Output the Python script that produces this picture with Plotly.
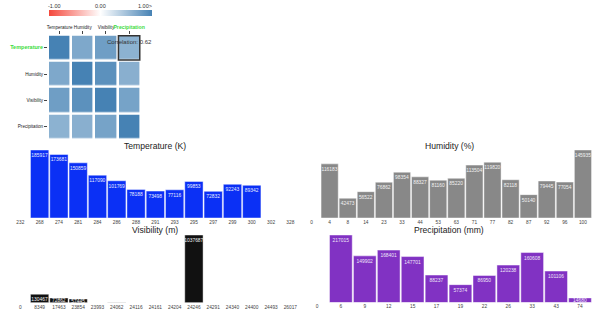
import plotly.graph_objects as go

W, H = 592, 316

# ---------------- data ----------------
variables = ["Temperature", "Humidity", "Visibility", "Precipitation"]
corr_temperature = [1.00, 0.70, 0.78, 0.62]
corr_humidity = [0.70, 1.00, 0.88, 0.64]
corr_visibility = [0.78, 0.88, 1.00, 0.74]
corr_precipitation = [0.62, 0.64, 0.74, 1.00]
colorbar_labels = ["-1.00", "0.00", "1.00>"]

temp_bins = ["232", "268", "274", "281", "284", "286", "288", "291", "293", "295", "297", "299", "300", "302", "328"]
temp_counts = [None, 185917, 173681, 150859, 117090, 101769, 78188, 73498, 77116, 99853, 72832, 92243, 89342, None, None]

hum_bins = ["0", "4", "8", "14", "23", "33", "44", "53", "63", "71", "77", "82", "87", "92", "96", "100"]
hum_counts = [None, 116183, 42473, 56522, 76862, 98354, 88327, 81160, 85220, 113504, 119820, 82118, 50140, 79445, 77054, 145935]

vis_bins = ["0", "8349", "17463", "23854", "23993", "24062", "24116", "24161", "24204", "24246", "24291", "24340", "24400", "24493", "26017"]
vis_counts = [None, 130467, 72862, 57445, None, 4000, None, None, None, 1037687, None, None, None, None, None]

precip_bins = ["0", "6", "9", "12", "15", "17", "19", "22", "26", "33", "43", "74"]
precip_counts = [None, 217015, 149902, 168401, 147701, 88237, 57374, 86950, 120238, 160608, 101106, 14680]

titles = ["Temperature (K)", "Humidity (%)", "Visibility (m)", "Precipitation (mm)"]
colors = ["#0b30f5", "#888888", "#111111", "#8132c3"]
label_colors = ["#e8ecff", "#f2f2f2", "#f2f2f2", "#efe6f8"]

FONT = "Liberation Sans, Arial, sans-serif"
GREEN = "#3ddc3d"

def px_x(p):
    return p / W

def px_y(p):
    return 1 - p / H

fig = go.Figure()

# ---------------- correlation heatmap ----------------
z = [corr_temperature, corr_humidity, corr_visibility, corr_precipitation]
fig.add_trace(go.Heatmap(
    z=z, x=variables, y=variables, zmin=-1, zmax=1,
    colorscale=[[0, "rgb(244,72,60)"], [0.5, "rgb(255,255,255)"], [1, "rgb(70,130,180)"]],
    xgap=2.6, ygap=2.6,
    xaxis="x", yaxis="y",
    colorbar=dict(orientation="h", x=px_x(100.5), xanchor="center",
                  y=px_y(13), yanchor="middle", len=103, lenmode="pixels",
                  xpad=0, ypad=0,
                  thickness=6, outlinewidth=0, showticklabels=False, ticks=""),
    hoverinfo="skip",
))

xt = []
for v in variables:
    if v == "Precipitation":
        xt.append('<b><span style="color:%s;font-size:5.2px">%s</span></b>' % (GREEN, v))
    else:
        xt.append(v)
yt = []
for v in variables:
    if v == "Temperature":
        yt.append('<b><span style="color:%s;font-size:5.5px">%s</span></b>' % (GREEN, v))
    else:
        yt.append(v)

fig.update_layout(
    xaxis=dict(domain=[px_x(48), px_x(153.6)], side="top", ticks="outside", ticklen=3,
               tickcolor="#444", tickwidth=0.7, tickvals=variables, ticktext=xt, tickangle=0,
               tickfont=dict(size=4.6, color="#222", family=FONT), showgrid=False,
               zeroline=False, showline=False, anchor="y", automargin=False),
    yaxis=dict(domain=[px_y(139.6), px_y(34.7)], autorange="reversed", ticks="outside",
               ticklen=3, tickcolor="#444", tickwidth=0.7, tickvals=variables, ticktext=yt,
               tickfont=dict(size=4.6, color="#222", family=FONT), showgrid=False,
               zeroline=False, showline=False, anchor="x", automargin=False),
)

# highlighted cell
fig.add_shape(type="rect", xref="x", yref="y", x0=3 - 0.46, x1=3 + 0.46, y0=0 - 0.46, y1=0 + 0.46,
              line=dict(color="#333333", width=1.5), fillcolor="rgba(0,0,0,0)")
fig.add_annotation(xref="x", yref="y", x=3, y=0, yshift=6, text="Correlation: 0.62",
                   showarrow=False, font=dict(size=6, color="#333", family=FONT))

# colorbar labels
for lab, xp in zip(colorbar_labels, [54, 100, 145]):
    fig.add_annotation(xref="paper", yref="paper", x=px_x(xp), y=px_y(6), text=lab,
                       showarrow=False, font=dict(size=5.5, color="#333", family=FONT),
                       xanchor="center", yanchor="middle")

# ---------------- histograms ----------------
panels = [
    (temp_bins, temp_counts, (10.7, 300), (218, 150), (155, 146)),
    (hum_bins, hum_counts, (302.5, 592), (218, 150), (449, 146)),
    (vis_bins, vis_counts, (10.7, 300), (302.7, 235), (155, 230)),
    (precip_bins, precip_counts, (305, 592), (302.5, 235), (449, 230)),
]

for i, (bins, counts, (xl, xr), (yb, yt_), (tx, ty)) in enumerate(panels):
    ax = i + 2
    xa = "x%d" % ax
    ya = "y%d" % ax
    ymax = max(c for c in counts if c)
    # bars too thin to hold a label show none (as in the reference)
    txt = [str(c) if c and c > 0.01 * ymax else "" for c in counts]
    fig.add_trace(go.Bar(
        x=bins, y=counts, xaxis=xa, yaxis=ya, text=txt,
        textposition="inside", insidetextanchor="end", textangle=0,
        textfont=dict(size=4.9, color=label_colors[i], family=FONT),
        marker=dict(color=colors[i], line=dict(color="rgba(255,255,255,0.45)", width=1)),
        hoverinfo="skip", cliponaxis=False,
    ))
    fig.layout["xaxis%d" % ax] = dict(
        domain=[px_x(xl), min(px_x(xr), 1.0)], anchor=ya, type="category",
        categoryorder="array", categoryarray=bins, range=[-0.5, len(bins) - 0.5],
        showgrid=False, zeroline=False, showline=False, ticks="", tickangle=0,
        tickfont=dict(size=4.8, color="#444", family=FONT), automargin=False,
    )
    fig.layout["yaxis%d" % ax] = dict(
        domain=[px_y(yb), px_y(yt_)], anchor=xa, range=[0, ymax],
        showgrid=False, zeroline=False, showline=False, showticklabels=False, ticks="",
        automargin=False,
    )
    fig.add_annotation(xref="paper", yref="paper", x=px_x(tx), y=px_y(ty), text=titles[i],
                       showarrow=False, font=dict(size=8.6, color="#222", family=FONT),
                       xanchor="center", yanchor="middle")

fig.update_layout(
    width=W, height=H, margin=dict(l=0, r=0, t=0, b=0, autoexpand=False),
    paper_bgcolor="white", plot_bgcolor="white", showlegend=False,
    bargap=0.05, font=dict(family=FONT),
    uniformtext=dict(minsize=4.9, mode="show"),
)

fig.write_html("out.html", config={"displayModeBar": False},
               post_script="document.body.style.margin='0';document.body.style.overflow='hidden';")
